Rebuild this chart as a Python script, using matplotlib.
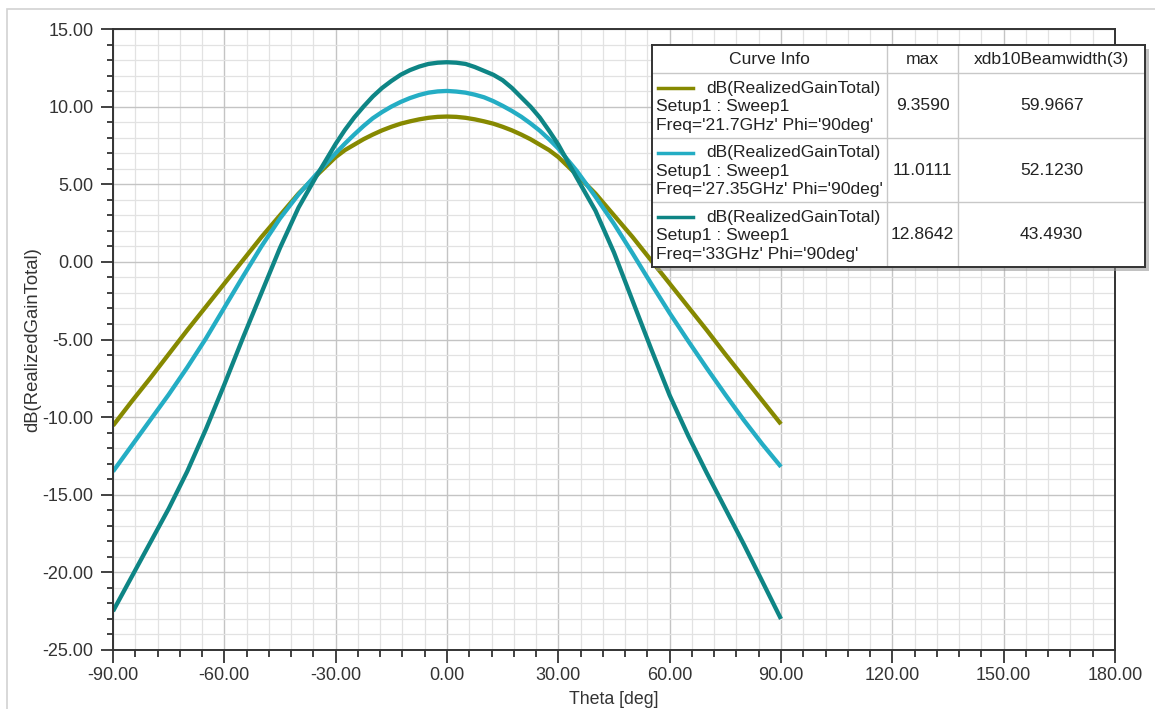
import matplotlib
matplotlib.use('Agg')
import matplotlib.pyplot as plt
from matplotlib.patches import Rectangle
from matplotlib.ticker import MultipleLocator, FormatStrFormatter

plt.rcParams['font.family'] = ['Liberation Sans', 'DejaVu Sans']
plt.rcParams['axes.unicode_minus'] = False

# values: 5 deg steps on the flanks, 2.5 deg around the main lobe
theta = [-90, -85, -80, -75, -70, -65, -60, -55, -50, -45, -40, -35, -30,
         -27.5, -25, -22.5, -20, -17.5, -15, -12.5, -10, -7.5, -5, -2.5, 0,
         2.5, 5, 7.5, 10, 12.5, 15, 17.5, 20, 22.5, 25, 27.5,
         30, 35, 40, 45, 50, 55, 60, 65, 70, 75, 80, 85, 90]

gain_21_7 = [-10.55, -9.0, -7.5, -5.95, -4.4, -2.9, -1.4, 0.1, 1.6, 3.0, 4.4, 5.6, 6.75,
             7.2, 7.55, 7.9, 8.2, 8.47, 8.7, 8.9, 9.05, 9.18, 9.28, 9.34, 9.36,
             9.34, 9.28, 9.18, 9.05, 8.9, 8.7, 8.47, 8.2, 7.9, 7.55, 7.2,
             6.75, 5.6, 4.4, 3.0, 1.6, 0.1, -1.4, -2.9, -4.4, -5.95, -7.45, -8.95, -10.45]

gain_27_35 = [-13.5, -11.85, -10.2, -8.55, -6.8, -4.95, -2.95, -0.95, 1.0, 2.8, 4.35, 5.7, 7.0,
              7.62, 8.2, 8.75, 9.25, 9.65, 10.0, 10.3, 10.55, 10.75, 10.9, 10.98, 11.01,
              10.97, 10.9, 10.77, 10.6, 10.35, 10.05, 9.72, 9.35, 8.92, 8.45, 7.9,
              7.3, 5.85, 4.2, 2.45, 0.55, -1.4, -3.3, -5.1, -6.85, -8.55, -10.2, -11.75, -13.2]

gain_33 = [-22.5, -20.3, -18.1, -15.9, -13.5, -10.8, -7.9, -4.9, -2.0, 0.9, 3.5, 5.6, 7.6,
           8.5, 9.3, 10.0, 10.65, 11.2, 11.65, 12.05, 12.35, 12.58, 12.75, 12.83, 12.86,
           12.83, 12.75, 12.55, 12.3, 12.05, 11.7, 11.2, 10.6, 10.0, 9.3, 8.45,
           7.55, 5.4, 3.3, 0.6, -2.5, -5.6, -8.6, -11.2, -13.6, -15.9, -18.2, -20.6, -23.0]

freqs = ["21.7GHz", "27.35GHz", "33GHz"]
max_vals = ["9.3590", "11.0111", "12.8642"]
beamwidths = ["59.9667", "52.1230", "43.4930"]
colors = ['#868900', '#24adc4', '#0e8585']

W, H = 1155, 709
fig = plt.figure(figsize=(W / 100, H / 100), dpi=100)


def px_box(x0, y0, x1, y1):
    # pixel box (top-left origin) -> figure fraction [l, b, w, h]
    return [x0 / W, 1 - y1 / H, (x1 - x0) / W, (y1 - y0) / H]


# light outer frame (only left and top edges fall inside the image)
fig.patches.append(Rectangle((7 / W, -0.1), 1.2, 1.1 - 9 / H, transform=fig.transFigure,
                             fill=False, edgecolor='#d2d2d2', linewidth=1.2, zorder=0))

ax = fig.add_axes(px_box(113, 29, 1115, 650))
ax.set_zorder(1)

for vals, c in zip([gain_21_7, gain_27_35, gain_33], colors):
    ax.plot(theta, vals, color=c, linewidth=3.1, solid_capstyle='butt', solid_joinstyle='round')

ax.set_xlim(-90, 180)
ax.set_ylim(-25, 15)
ax.xaxis.set_major_locator(MultipleLocator(30))
ax.xaxis.set_minor_locator(MultipleLocator(6))
ax.yaxis.set_major_locator(MultipleLocator(5))
ax.yaxis.set_minor_locator(MultipleLocator(1))
ax.xaxis.set_major_formatter(FormatStrFormatter('%.2f'))
ax.yaxis.set_major_formatter(FormatStrFormatter('%.2f'))

ax.grid(True, which='major', color='#c4c4c4', linewidth=1.0)
ax.grid(True, which='minor', color='#e2e2e2', linewidth=0.9)
ax.set_axisbelow(True)

for sp in ax.spines.values():
    sp.set_color('#333333')
    sp.set_linewidth(1.4)

ax.tick_params(which='major', length=9, width=1.3, color='#333333', labelsize=13, labelcolor='#333333')
ax.tick_params(axis='x', which='major', pad=3)
ax.tick_params(axis='y', which='major', pad=5)
ax.tick_params(axis='x', which='minor', length=5, width=1.3, color='#333333')
ax.tick_params(axis='y', which='minor', length=4, width=1.3, color='#333333')

ax.set_xlabel('Theta [deg]', fontsize=12.8, color='#333333', labelpad=5)
ax.set_ylabel('dB(RealizedGainTotal)', fontsize=13.3, color='#333333', labelpad=1)

# curve info table, drawn in its own pixel-unit axes
tx0, ty0, tx1, ty1 = 652, 45, 1145, 267
fig.patches.append(Rectangle(((tx0 + 4) / W, 1 - (ty1 + 4) / H), (tx1 - tx0) / W, (ty1 - ty0) / H,
                             transform=fig.transFigure, facecolor='#9a9a9a', edgecolor='none',
                             alpha=0.6, zorder=1.5))
tab = fig.add_axes(px_box(tx0, ty0, tx1, ty1))
tab.set_zorder(2)
tw, th = tx1 - tx0, ty1 - ty0
tab.set_xlim(0, tw)
tab.set_ylim(th, 0)
tab.set_xticks([])
tab.set_yticks([])
for sp in tab.spines.values():
    sp.set_color('#333333')
    sp.set_linewidth(1.4)

col_x = [0, 234.7, 306.3, tw]
row_y = [0, 28.3, 92.7, 157.3, th]
for x in col_x[1:-1]:
    tab.plot([x, x], [0, th], color='#c8c8c8', linewidth=1.0)
for y in row_y[1:-1]:
    tab.plot([0, tw], [y, y], color='#c8c8c8', linewidth=1.0)

fs = 12.6
tc = '#222222'
tab.text((col_x[0] + col_x[1]) / 2, 14.5, 'Curve Info', ha='center', va='center', fontsize=fs, color=tc)
tab.text((col_x[1] + col_x[2]) / 2, 14.5, 'max', ha='center', va='center', fontsize=fs, color=tc)
tab.text((col_x[2] + col_x[3]) / 2, 14.5, 'xdb10Beamwidth(3)', ha='center', va='center', fontsize=fs, color=tc)

for i in range(3):
    top = row_y[i + 1]
    mid = (row_y[i + 1] + row_y[i + 2]) / 2
    tab.plot([6, 41], [top + 15, top + 15], color=colors[i], linewidth=2.5)
    tab.text(229, top + 15, 'dB(RealizedGainTotal)', ha='right', va='center', fontsize=fs, color=tc)
    tab.text(4, top + 33.5, 'Setup1 : Sweep1', ha='left', va='center', fontsize=fs, color=tc)
    tab.text(4, top + 52, "Freq='%s' Phi='90deg'" % freqs[i], ha='left', va='center', fontsize=fs, color=tc)
    tab.text((col_x[1] + col_x[2]) / 2, mid, max_vals[i], ha='center', va='center', fontsize=fs, color=tc)
    tab.text((col_x[2] + col_x[3]) / 2, mid, beamwidths[i], ha='center', va='center', fontsize=fs, color=tc)

fig.savefig('out.png', dpi=100, facecolor='white')
